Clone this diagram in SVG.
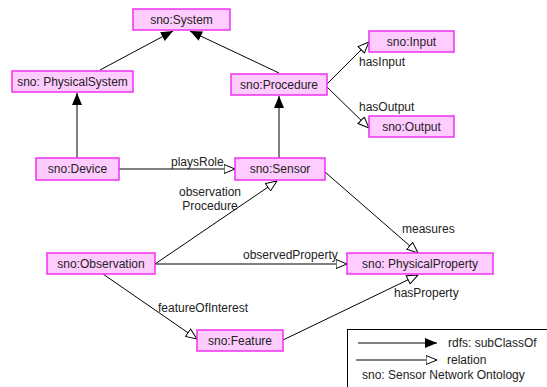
<svg xmlns="http://www.w3.org/2000/svg" width="547" height="387" viewBox="0 0 547 387">
<style>
.box{fill:#ffccff;stroke:#f030f0;stroke-width:1.5}
.t{font-family:"Liberation Sans",Arial,sans-serif;font-size:12px;fill:#222;text-anchor:middle;dominant-baseline:central}
.l{font-family:"Liberation Sans",Arial,sans-serif;font-size:12px;fill:#222}
.sub{stroke:#000;stroke-width:1;fill:none;marker-end:url(#filled)}
.rel{stroke:#000;stroke-width:1;fill:none;marker-end:url(#open)}
</style>
<defs>
<marker id="filled" viewBox="0 0 12 10" refX="12" refY="5" markerWidth="12" markerHeight="10" markerUnits="userSpaceOnUse" orient="auto">
<path d="M0,0 L12,5 L0,10 Z" fill="#000"/>
</marker>
<marker id="open" viewBox="0 0 12 10" refX="11.5" refY="5" markerWidth="12" markerHeight="10" markerUnits="userSpaceOnUse" orient="auto">
<path d="M0.5,0.5 L11.5,5 L0.5,9.5 Z" fill="#fff" stroke="#000" stroke-width="1"/>
</marker>
</defs>
<rect width="547" height="387" fill="#fff"/>
<g id="connectors">
<line class="sub" x1="100" y1="70" x2="173" y2="31"/>
<line class="sub" x1="279" y1="73" x2="190" y2="31"/>
<line class="sub" x1="77" y1="158" x2="77" y2="93"/>
<line class="sub" x1="279" y1="158" x2="279" y2="96"/>
<line class="rel" x1="327" y1="84" x2="369" y2="42"/>
<line class="rel" x1="327" y1="87" x2="369" y2="128"/>
<line class="rel" x1="119" y1="169" x2="235" y2="169"/>
<line class="rel" x1="155" y1="264" x2="277" y2="181"/>
<line class="rel" x1="155" y1="264" x2="347" y2="264"/>
<line class="rel" x1="325" y1="172" x2="418" y2="253"/>
<line class="rel" x1="103" y1="274" x2="197" y2="339"/>
<line class="rel" x1="283" y1="340" x2="418" y2="275"/>
</g>
<g class="l">
<text x="359" y="66">hasInput</text>
<text x="359" y="111">hasOutput</text>
<text x="171" y="166">playsRole</text>
<text x="210" y="196" text-anchor="middle">observation</text>
<text x="210" y="210" text-anchor="middle">Procedure</text>
<text x="243" y="259">observedProperty</text>
<text x="402" y="233">measures</text>
<text x="394" y="297">hasProperty</text>
<text x="158" y="312">featureOfInterest</text>
</g>
<g id="system"><rect class="box" x="133" y="9" width="97" height="21"/><text class="t" x="181.5" y="19.5">sno:System</text></g>
<g id="physicalsystem"><rect class="box" x="12" y="71" width="121" height="21"/><text class="t" x="72.5" y="81.5">sno: PhysicalSystem</text></g>
<g id="procedure"><rect class="box" x="231" y="74" width="96" height="21"/><text class="t" x="279" y="84.5">sno:Procedure</text></g>
<g id="input"><rect class="box" x="369" y="31" width="85" height="21"/><text class="t" x="411.5" y="41.5">sno:Input</text></g>
<g id="output"><rect class="box" x="369" y="116" width="85" height="21"/><text class="t" x="411.5" y="126.5">sno:Output</text></g>
<g id="device"><rect class="box" x="36" y="158" width="83" height="22"/><text class="t" x="77.5" y="169">sno:Device</text></g>
<g id="sensor"><rect class="box" x="235" y="158" width="90" height="22"/><text class="t" x="280" y="169">sno:Sensor</text></g>
<g id="observation"><rect class="box" x="47" y="253" width="108" height="21"/><text class="t" x="101" y="263.5">sno:Observation</text></g>
<g id="physicalproperty"><rect class="box" x="347" y="253" width="146" height="21"/><text class="t" x="420" y="263.5">sno: PhysicalProperty</text></g>
<g id="feature"><rect class="box" x="197" y="330" width="86" height="21"/><text class="t" x="240" y="340.5">sno:Feature</text></g>
<g id="legend">
<rect x="347.5" y="329.5" width="205" height="65" fill="#fff" stroke="#000" stroke-width="1"/>
<line class="sub" x1="358" y1="343" x2="437" y2="343"/>
<text class="l" x="448" y="347">rdfs: subClassOf</text>
<line class="rel" x1="356" y1="360" x2="437" y2="360"/>
<text class="l" x="447" y="364">relation</text>
<text class="l" x="362" y="379">sno: Sensor Network Ontology</text>
</g>
</svg>
